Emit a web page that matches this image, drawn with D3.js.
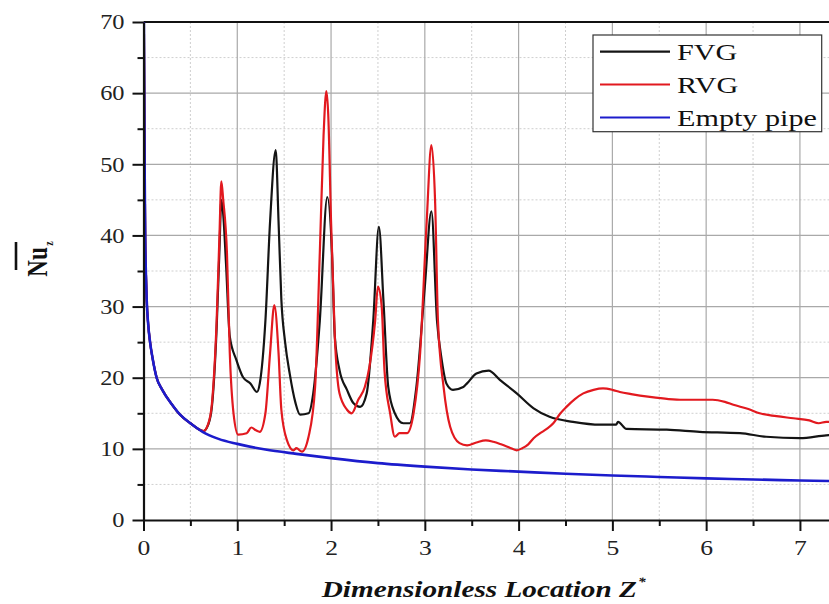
<!DOCTYPE html>
<html><head><meta charset="utf-8">
<script src="https://cdn.jsdelivr.net/npm/d3@7"></script>
<style>body{margin:0;background:#fff}svg{display:block}</style>
</head><body>
<svg id="c" width="829" height="604"></svg>
<script>
// ---------- data ----------
const emptyZ  = [0.004,0.008,0.012,0.018,0.026,0.034,0.05,0.07,0.1,0.14,0.2,0.3,0.39,0.5,0.63,0.8,1.0,1.3,1.63,2.0,2.5,3.0,3.5,4.0,4.5,5.0,5.5,6.0,6.5,7.0,7.4];
const emptyNu = [70,60,50,40,34.5,31,27.5,25,22.5,20,18.3,16.3,14.8,13.6,12.4,11.4,10.7,9.9,9.3,8.7,8.0,7.5,7.1,6.8,6.5,6.25,6.05,5.85,5.7,5.55,5.45];

const rvgZ  = [0.004,0.008,0.012,0.018,0.026,0.034,0.05,0.07,0.1,0.14,0.2,0.3,0.39,0.5,0.64,0.69,0.73,0.78,0.81,0.83,0.85,0.89,0.92,0.96,1.01,1.1,1.15,1.2,1.24,1.3,1.35,1.395,1.44,1.47,1.53,1.6,1.63,1.69,1.76,1.83,1.88,1.92,1.95,1.97,2.0,2.04,2.09,2.17,2.22,2.29,2.36,2.41,2.47,2.5,2.54,2.57,2.63,2.68,2.73,2.81,2.88,2.95,3.02,3.07,3.11,3.14,3.2,3.27,3.37,3.45,3.55,3.65,3.73,3.82,3.9,3.98,4.04,4.1,4.16,4.23,4.3,4.37,4.44,4.51,4.6,4.69,4.8,4.9,5.0,5.08,5.2,5.4,5.6,5.75,5.9,6.07,6.2,6.29,6.45,6.57,6.75,6.93,7.1,7.2,7.28,7.4];
const rvgNu = [70,60,50,40,34.5,31,27.5,25,22.5,20,18.3,16.3,14.8,13.6,12.5,13.5,16.4,28,40,47.6,45,37.5,23.5,15,12,12.2,13,12.6,12.4,15,23.5,30.2,23.5,15.5,11.2,9.8,10.1,9.6,11.7,18.7,37.5,54,60.3,57,42,25.8,17.8,15.5,15,16.9,18.7,21.6,28,32.8,30,21,15,11.7,12.2,12.2,15,23.5,42,52.7,44.6,28,18.7,13.1,10.8,10.5,10.9,11.2,11.0,10.6,10.2,9.8,10.1,10.6,11.5,12.2,12.8,13.6,14.9,15.9,17.0,17.8,18.3,18.5,18.3,18.0,17.7,17.3,17.0,16.9,16.9,16.9,16.6,16.2,15.6,15.0,14.6,14.3,14.0,13.6,13.8,13.7];

const fvgZ  = [0.004,0.008,0.012,0.018,0.026,0.034,0.05,0.07,0.1,0.14,0.2,0.3,0.39,0.5,0.64,0.69,0.73,0.78,0.81,0.83,0.85,0.88,0.92,0.99,1.06,1.14,1.21,1.24,1.3,1.35,1.41,1.44,1.47,1.51,1.56,1.62,1.67,1.76,1.81,1.88,1.96,2.01,2.04,2.09,2.17,2.24,2.31,2.38,2.45,2.51,2.56,2.61,2.68,2.77,2.84,2.91,3.0,3.07,3.13,3.18,3.23,3.3,3.41,3.45,3.55,3.68,3.8,3.98,4.16,4.33,4.58,4.87,5.04,5.06,5.15,5.58,5.93,6.36,6.64,7.0,7.28,7.4];
const fvgNu = [70,60,50,40,34.5,31,27.5,25,22.5,20,18.3,16.3,14.8,13.6,12.5,13.4,16,27,38,45,43,36,25.8,22.5,20.1,19.2,18,19.2,28,42,52,42,31,25,20.5,16.5,14.8,15,17.8,28,45.4,37.5,25.8,21.1,18.3,16.4,15.9,17.8,28,41.2,30.5,18.7,15,13.6,13.6,18.7,32.8,43.4,28,22.5,19.2,18.3,18.7,19.2,20.6,21,19.7,17.8,15.7,14.5,13.8,13.4,13.4,13.8,12.8,12.7,12.4,12.2,11.7,11.5,11.9,12.0];

const seriesNames = ["FVG","RVG","Empty pipe"];
const seriesColors = ["#141414","#e2191f","#1c1ccc"];
const yTicks = [0,10,20,30,40,50,60,70];
const yMinor = [5,15,25,35,45,55,65];
const xTicks = [0,1,2,3,4,5,6,7];
const xMinor = [0.5,1.5,2.5,3.5,4.5,5.5,6.5];

// ---------- layout ----------
const L = 143.5, R = 829, T = 22, B = 520;
const svg = d3.select("#c");
const x = d3.scaleLinear().domain([0, 7.31]).range([L, R]);
const y = d3.scaleLinear().domain([0, 70]).range([B, T]);
const font = "'Liberation Serif','Times New Roman',Times,serif";

// measure text helper
function measure(txt, size, weight, style) {
  const t = svg.append("text").style("font-family", font).style("font-size", size + "px")
    .style("font-weight", weight || "normal").style("font-style", style || "normal").text(txt);
  const w = t.node().getComputedTextLength(); t.remove(); return w;
}
// Times-like fonts: "70" is 1.0em; wider fallbacks need smaller size to keep cap height
const wideFont = measure("70", 100) > 110;
const cs = wideFont ? 0.91 : 1;

// grid
const g = svg.append("g");
g.selectAll(".vmin").data(xMinor).join("line")
  .attr("x1", d => x(d)).attr("x2", d => x(d)).attr("y1", T).attr("y2", B)
  .attr("stroke", "#cfcfcf").attr("stroke-width", 1).attr("stroke-dasharray", "2,2");
g.selectAll(".hmin").data(yMinor).join("line")
  .attr("y1", d => y(d)).attr("y2", d => y(d)).attr("x1", L).attr("x2", R)
  .attr("stroke", "#cfcfcf").attr("stroke-width", 1).attr("stroke-dasharray", "2,2");
g.selectAll(".vmaj").data(xTicks.slice(1)).join("line")
  .attr("x1", d => x(d)).attr("x2", d => x(d)).attr("y1", T).attr("y2", B)
  .attr("stroke", "#a9a9a9").attr("stroke-width", 1.2);
g.selectAll(".hmaj").data(yTicks.slice(1, -1)).join("line")
  .attr("y1", d => y(d)).attr("y2", d => y(d)).attr("x1", L).attr("x2", R)
  .attr("stroke", "#a9a9a9").attr("stroke-width", 1.2);
svg.append("line").attr("x1", L).attr("x2", R).attr("y1", y(70)).attr("y2", y(70))
  .attr("stroke", "#111").attr("stroke-width", 2);

// lines
svg.append("clipPath").attr("id", "clip").append("rect")
  .attr("x", L).attr("y", T - 2).attr("width", R - L).attr("height", B - T + 2);
const line = d3.line().x(d => x(d[0])).y(d => y(d[1])).curve(d3.curveMonotoneX);
const zip = (a, b) => a.map((v, i) => [v, b[i]]);
const lines = svg.append("g").attr("clip-path", "url(#clip)");
lines.append("path").datum(zip(fvgZ, fvgNu)).attr("d", line)
  .attr("fill", "none").attr("stroke", seriesColors[0]).attr("stroke-width", 2.2);
lines.append("path").datum(zip(rvgZ, rvgNu)).attr("d", line)
  .attr("fill", "none").attr("stroke", seriesColors[1]).attr("stroke-width", 2.2);
lines.append("path").datum(zip(emptyZ, emptyNu)).attr("d", line)
  .attr("fill", "none").attr("stroke", seriesColors[2]).attr("stroke-width", 2.6);

// axes
const tickFs = 20 * cs;
const kTick = 24.4 / measure("70", tickFs);
const yAx = svg.append("g").attr("transform", `translate(${L},0)`)
  .call(d3.axisLeft(y).tickValues(yTicks).tickSize(11).tickSizeOuter(0).tickFormat(d3.format("d")));
svg.append("g").attr("transform", `translate(${L},0)`)
  .call(d3.axisLeft(y).tickValues(yMinor).tickSize(6).tickSizeOuter(0).tickFormat(""))
  .call(s => s.select(".domain").remove());
const xAx = svg.append("g").attr("transform", `translate(0,${B})`)
  .call(d3.axisBottom(x).tickValues(xTicks).tickSize(11).tickSizeOuter(0).tickFormat(d3.format("d")));
svg.append("g").attr("transform", `translate(0,${B})`)
  .call(d3.axisBottom(x).tickValues(xMinor).tickSize(6).tickSizeOuter(0).tickFormat(""))
  .call(s => s.select(".domain").remove());
svg.selectAll(".domain").attr("stroke", "#111").attr("stroke-width", 2.2);
svg.selectAll(".tick line").attr("stroke", "#111").attr("stroke-width", 2);
yAx.selectAll(".tick text")
  .attr("x", -19 / kTick).attr("dy", "0.34em")
  .attr("transform", `scale(${kTick},1)`)
  .style("font-family", font).style("font-size", tickFs + "px").attr("fill", "#222");
xAx.selectAll(".tick text")
  .attr("y", 35).attr("dy", 0)
  .attr("transform", `scale(${kTick},1)`)
  .style("font-family", font).style("font-size", (21 * cs) + "px").attr("fill", "#222");

// x title
const titleFs = 23 * cs;
const xt = svg.append("text")
  .style("font-family", font).style("font-size", titleFs + "px").style("font-weight", "bold").style("font-style", "italic")
  .attr("fill", "#111");
xt.append("tspan").text("Dimensionless Location Z");
xt.append("tspan").attr("dy", -11).attr("dx", 1).style("font-size", "12px").text("*");
const kTitle = 323 / xt.node().getComputedTextLength();
xt.attr("transform", `translate(321.7,597) scale(${kTitle},1)`);

// y title (Nu with overbar, subscript z)
const nuFs = 23 * cs;
const yt = svg.append("g");
const nuT = yt.append("text").attr("text-anchor", "middle")
  .style("font-family", font).style("font-size", nuFs + "px").style("font-weight", "bold").attr("fill", "#111")
  .text("Nu");
const nuW = nuT.node().getComputedTextLength();
yt.append("text").attr("x", nuW / 2 + 1.5).attr("y", 5)
  .style("font-family", font).style("font-size", "10px").style("font-weight", "bold").attr("fill", "#111")
  .text("z");
yt.attr("transform", `translate(46.7,262) scale(1.25,1) rotate(-90)`);
svg.append("line").attr("x1", 16).attr("x2", 16).attr("y1", 242).attr("y2", 270)
  .attr("stroke", "#111").attr("stroke-width", 2.6);

// legend
const lg = svg.append("g");
lg.append("rect").attr("x", 593).attr("y", 35).attr("width", 228.7).attr("height", 96.7)
  .attr("fill", "#fff").attr("stroke", "#333").attr("stroke-width", 1.2);
const legFs = 24 * cs;
const kLeg = 140 / measure("Empty pipe", legFs);
const rowsY = [51.7, 84.5, 117.5];
seriesNames.forEach((n, i) => {
  lg.append("line").attr("x1", 600).attr("x2", 670).attr("y1", rowsY[i]).attr("y2", rowsY[i])
    .attr("stroke", seriesColors[i]).attr("stroke-width", 2.2);
  lg.append("text").attr("transform", `translate(677,${rowsY[i] + 8.5}) scale(${kLeg},1)`)
    .style("font-family", font).style("font-size", legFs + "px").attr("fill", "#111").text(n);
});
</script>
</body></html>
